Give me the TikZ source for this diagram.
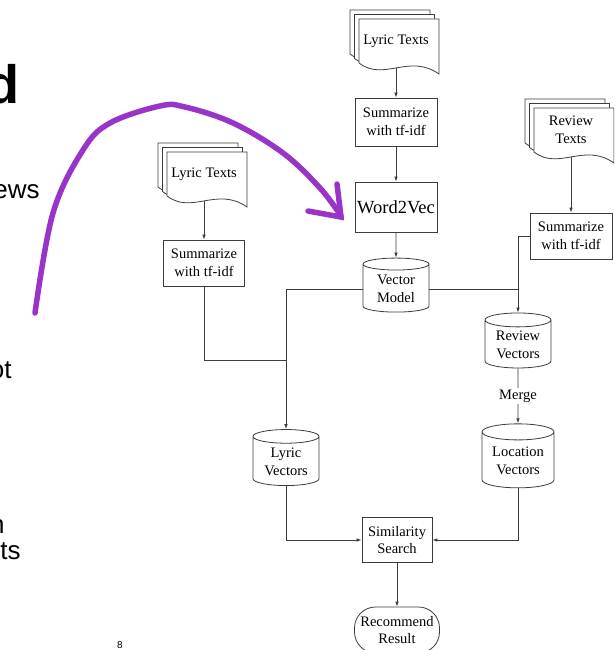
\documentclass[tikz,border=0pt]{standalone}
\usepackage{fontspec}
\setmainfont{Liberation Serif}
\newfontfamily\slidefont{Liberation Sans}
\newfontfamily\slidebold{Liberation Sans Bold}
\usetikzlibrary{arrows.meta,shapes.geometric}
\definecolor{linec}{RGB}{60,60,60}
\definecolor{crayon}{RGB}{152,52,200}

\tikzset{
  box/.style={draw=linec, fill=white, align=center, minimum width=82pt, minimum height=47pt, inner sep=1pt},
  store/.style={cylinder, shape border rotate=90, draw=linec, fill=white, align=center, aspect=0.3,
    minimum width=66pt, minimum height=55pt, inner sep=1pt},
  term/.style={draw=linec, fill=white, rounded corners=21pt, align=center, minimum width=85pt, minimum height=46pt},
  flow/.style={draw=linec, -{Latex[length=5pt,width=3.5pt]}},
  wire/.style={draw=linec},
  slide/.style={font=\slidefont\fontsize{26}{28}\selectfont, inner sep=0pt, anchor=base east},
}

% stack of documents: name, left, top, text
\newcommand{\docstack}[4]{%
  \foreach \k in {2,1,0}
    \draw[draw=linec, fill=white, shift={(#2-4.5*\k,#3-4.5*\k)}]
      (0,0) -- (80,0) -- (80,55) .. controls (50,34) and (25,63) .. (0,44) -- cycle;
  \node[align=center, inner sep=1pt] (#1) at (#2+37,#3+22) {#4};
  \coordinate (#1-b) at (#2+37,#3+49);
}

\begin{document}
\begin{tikzpicture}[x=1pt, y=-1pt, line width=0.8pt, font=\fontsize{14.5}{17.5}\selectfont]
  \clip (0,0) rectangle (614,650);
  \fill[white] (0,0) rectangle (614,650);

  \node[slide, font=\slidebold\fontsize{54}{54}\selectfont] (title) at (20,103) {d};
  \node[slide] (rowA) at (40,198) {ews};
  \node[slide] (rowB) at (12,378) {ot};
  \node[slide] (rowC) at (5,533) {n};
  \node[slide] (rowD) at (21,559) {ts};
  \node[font=\slidefont\fontsize{10}{10}\selectfont, inner sep=0pt] (page) at (120,645) {8};

  \docstack{txtA}{359}{19}{Lyric Texts}
  \docstack{txtB}{167}{152}{Lyric Texts}
  \docstack{txtC}{534}{108}{Review\\Texts}

  \node[box, minimum height=48pt] (sumA) at (396,122) {Summarize\\with tf-idf};
  \node[box, minimum height=50pt, font=\fontsize{18.5}{20}\selectfont] (w2v) at (396,207) {Word2Vec};
  \node[store, minimum height=54pt] (vecM) at (396,289) {Vector\\Model};
  \node[box, minimum width=81pt, minimum height=46pt] (sumB) at (204,263) {Summarize\\with tf-idf};
  \node[box, minimum height=46pt] (sumC) at (571,236) {Summarize\\with tf-idf};
  \node[store] (revV) at (518,345) {Review\\Vectors};
  \node[store, minimum width=72pt, minimum height=64pt] (locV) at (518,461) {Location\\Vectors};
  \node[store, minimum height=56pt] (lyrV) at (286,462) {Lyric\\Vectors};
  \node[box, minimum width=70pt, minimum height=45pt] (simS) at (397,540) {Similarity\\Search};
  \node[term] (recR) at (397,630) {Recommend\\Result};

  \draw[flow] (txtA-b) -- (sumA);
  \draw[flow] (sumA) -- (w2v);
  \draw[flow] (w2v) -- (vecM);
  \draw[flow] (txtB-b) -- (sumB);
  \draw[flow] (txtC-b) -- (sumC);
  \draw[wire] (sumB) |- (lyrV.north |- 0,360);
  \draw[flow] (vecM.west) -| (lyrV.north);
  \draw[flow] (vecM.east) -| (revV.north);
  \draw[wire] (sumC.west) -| (revV.north |- vecM.east);
  \draw[flow] (revV) -- node[fill=white, inner sep=2pt] (merge) {Merge} (locV);
  \draw[flow] (lyrV) |- (simS);
  \draw[flow] (locV) |- (simS);
  \draw[flow] (simS) -- (recR);

  \draw[crayon, line width=5.5pt, line cap=round, line join=round]
    plot[smooth, tension=0.6] coordinates {(35,313) (53,213) (83,150) (110,123) (160,106)
      (185,107) (233,123) (283,153) (320,188) (341,216)};
  \draw[crayon, line width=5.5pt, line cap=round] (308,211) -- (341,217) -- (337,184);
\end{tikzpicture}
\end{document}
